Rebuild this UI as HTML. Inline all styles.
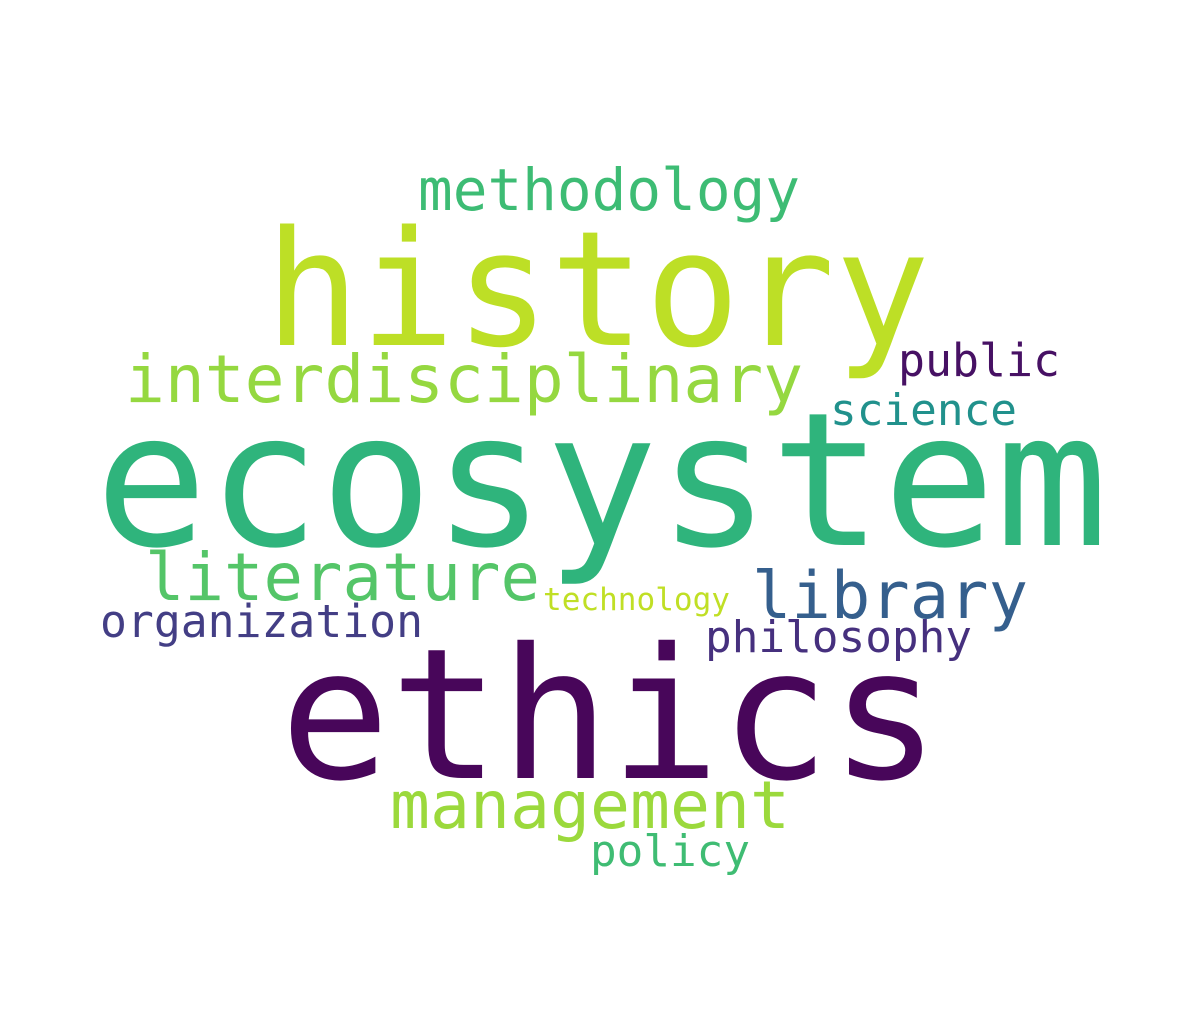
<!DOCTYPE html>
<html><head><meta charset="utf-8"><style>
html,body{margin:0;padding:0;background:#fff;}
svg{display:block}
text{font-family:"DejaVu Sans Mono","Liberation Mono",monospace;}
</style></head><body>
<svg width="1190" height="1028">
<rect width="1190" height="1028" fill="#fff"/>
<g id="words"></g>
</svg>
<script>
const words = ["history","ecosystem","ethics","methodology","interdisciplinary","public","science","literature","library","technology","organization","philosophy","management","policy"];
const sizes = [160,186,182,58,66,45,44,66,65,31,45,44,66,44];
const colors = ["#bddf26","#2fb47c","#48065a","#3dbc74","#95d840","#471164","#21918c","#54c568","#355f8d","#c0df25","#433e85","#46307e","#9bd93c","#3fbc73"];
const lefts = [265,95,280,418,125,898,830,145,752,543,100,705,390,590];
const rights = [930,1108,940,800,803,1060,1017,540,1028,730,423,972,790,750];
const baselines = [345,545,778,210,402,376,425,600,618,610,637,652,828,866];
const g = document.getElementById('words');
words.forEach((w,i)=>{
  const t = document.createElementNS('http://www.w3.org/2000/svg','text');
  t.setAttribute('x', lefts[i]);
  t.setAttribute('y', baselines[i]);
  t.setAttribute('font-size', sizes[i]);
  t.setAttribute('fill', colors[i]);
  t.setAttribute('textLength', rights[i]-lefts[i]);
  t.setAttribute('lengthAdjust', 'spacingAndGlyphs');
  t.textContent = w;
  
  
  g.appendChild(t);
});
</script>
</body></html>
